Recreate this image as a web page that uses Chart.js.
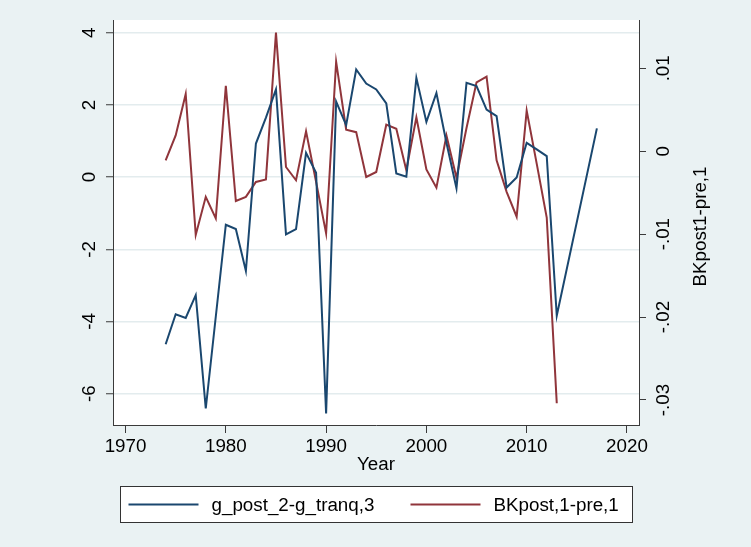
<!DOCTYPE html>
<html>
<head>
<meta charset="utf-8">
<script src="https://cdn.jsdelivr.net/npm/chart.js@4.4.1/dist/chart.umd.min.js"></script>
<style>
  html, body { margin: 0; padding: 0; background: #eaf2f3; }
  canvas { display: block; }
</style>
</head>
<body>
<canvas id="c" width="751" height="547"></canvas>
<script>
// Years of observation
const years = [1974, 1975, 1976, 1977, 1978, 1979, 1980, 1981, 1982, 1983,
               1984, 1985, 1986, 1987, 1988, 1989, 1990, 1991, 1992, 1993,
               1994, 1995, 1996, 1997, 1998, 1999, 2000, 2001, 2002, 2003,
               2004, 2005, 2006, 2007, 2008, 2009, 2010, 2011, 2012, 2013,
               2014, 2015, 2016, 2017];

// g_post_2-g_tranq,3 (left axis); null = no observation
const gPost = [-4.63, -3.80, -3.90, -3.27, -6.41, null, -1.32, -1.44, -2.60, 0.93,
               1.65, 2.43, -1.59, -1.44, 0.67, 0.12, -6.55, 2.09, 1.44, 2.98,
               2.59, 2.43, 2.04, 0.10, 0.01, 2.75, 1.53, 2.33, 0.95, -0.31,
               2.61, 2.52, 1.87, 1.69, -0.29, -0.01, 0.95, 0.77, 0.58, -3.84,
               null, null, null, 1.35];

// BKpost,1-pre,1 (right axis), 1974-2013
const bkPost = [-0.0011, 0.0019, 0.0069, -0.0101, -0.0055, -0.0081, 0.0079, -0.0060, -0.0055, -0.0037,
                -0.0034, 0.0143, -0.0019, -0.0035, 0.0024, -0.0037, -0.0099, 0.0108, 0.0026, 0.0023,
                -0.0031, -0.0025, 0.0032, 0.0027, -0.0023, 0.0041, -0.0022, -0.0044, 0.0019, -0.0032,
                0.0028, 0.0083, 0.0090, -0.0011, -0.0049, -0.0079, 0.0049, -0.0015, -0.0080, -0.0304];

const xTicks = [1970, 1980, 1990, 2000, 2010, 2020];
const leftTicks = [4, 2, 0, -2, -4, -6];
const leftTickLabels = ['4', '2', '0', '-2', '-4', '-6'];
const rightTicks = [0.01, 0, -0.01, -0.02, -0.03];
const rightTickLabels = ['.01', '0', '-.01', '-.02', '-.03'];

const seriesNames = ['g_post_2-g_tranq,3', 'BKpost,1-pre,1'];
const rightAxisTitle = 'BKpost1-pre,1';
const xAxisTitle = 'Year';

const FONT = "'Liberation Sans', Arial, sans-serif";
const FS = 18.8;
const AXIS = '#3a3a3a';
const BLUE = '#1a476f';
const RED = '#90353b';

const bluePts = years.map((yr, i) => ({ x: yr, y: gPost[i] }));
const redPts = bkPost.map((v, i) => ({ x: years[i], y: v }));

// Stata-like backgrounds: tinted outer region, white plot region
const backdrop = {
  id: 'backdrop',
  beforeDraw(chart) {
    const { ctx, chartArea: a } = chart;
    ctx.save();
    ctx.fillStyle = '#eaf2f3';
    ctx.fillRect(0, 0, chart.width, chart.height);
    ctx.fillStyle = '#ffffff';
    ctx.fillRect(a.left, a.top, a.right - a.left, a.bottom - a.top);
    ctx.restore();
  }
};

// Right axis title (reads bottom-to-top) and boxed legend below the axis
const extras = {
  id: 'extras',
  afterDraw(chart) {
    const { ctx, chartArea: a } = chart;
    ctx.save();
    ctx.fillStyle = '#000';
    ctx.font = FS + 'px ' + FONT;
    ctx.textAlign = 'center';
    ctx.textBaseline = 'middle';
    ctx.translate(701, (a.top + a.bottom) / 2 + 4);
    ctx.rotate(-Math.PI / 2);
    ctx.fillText(rightAxisTitle, 0, 0);
    ctx.restore();

    const cx = (a.left + a.right) / 2;
    const bw = 512, bh = 36;
    const bx = Math.round(cx - bw / 2) + 0.5, by = 486.5;
    ctx.save();
    ctx.fillStyle = '#ffffff';
    ctx.fillRect(bx, by, bw, bh);
    ctx.strokeStyle = '#333';
    ctx.lineWidth = 1;
    ctx.strokeRect(bx, by, bw, bh);
    const ly = by + bh / 2;
    const items = chart.data.datasets;
    const offsets = [8, 290];
    ctx.font = FS + 'px ' + FONT;
    ctx.textBaseline = 'middle';
    ctx.textAlign = 'left';
    items.forEach((ds, i) => {
      const x0 = bx + offsets[i];
      ctx.strokeStyle = ds.borderColor;
      ctx.lineWidth = 2;
      ctx.beginPath();
      ctx.moveTo(x0, ly);
      ctx.lineTo(x0 + 70, ly);
      ctx.stroke();
      ctx.fillStyle = '#000';
      ctx.fillText(ds.label, x0 + 83, ly + 1);
    });
    ctx.restore();
  }
};

new Chart(document.getElementById('c'), {
  type: 'line',
  data: {
    datasets: [
      { label: seriesNames[0], data: bluePts, yAxisID: 'y', borderColor: BLUE,
        borderWidth: 2, pointRadius: 0, tension: 0, spanGaps: true, fill: false },
      { label: seriesNames[1], data: redPts, yAxisID: 'y1', borderColor: RED,
        borderWidth: 2, pointRadius: 0, tension: 0, spanGaps: true, fill: false }
    ]
  },
  options: {
    responsive: false,
    animation: false,
    devicePixelRatio: 1,
    layout: { padding: { top: 20, left: 0, right: 0, bottom: 0 } },
    plugins: { legend: { display: false }, tooltip: { enabled: false } },
    scales: {
      x: {
        type: 'linear', position: 'bottom',
        min: 1968.75, max: 2021.2,
        afterBuildTicks: s => { s.ticks = xTicks.map(v => ({ value: v })); },
        afterFit: s => { s.height = 122; },
        ticks: { font: { family: FONT, size: FS }, color: '#000', padding: 3, maxRotation: 0,
                 callback: v => String(v) },
        grid: { drawOnChartArea: false, drawTicks: true, tickLength: 8, tickColor: AXIS, tickWidth: 1 },
        border: { display: true, color: AXIS, width: 1 },
        title: { display: true, text: xAxisTitle, color: '#000',
                 font: { family: FONT, size: FS }, padding: { top: 0, bottom: 71 } }
      },
      y: {
        type: 'linear', position: 'left',
        min: -6.867, max: 4.352,
        afterBuildTicks: s => { s.ticks = leftTicks.map(v => ({ value: v })); },
        afterFit: s => { s.width = 113; },
        ticks: { font: { family: FONT, size: FS }, color: '#000', minRotation: 90, maxRotation: 90,
                 crossAlign: 'center', padding: 7.6,
                 callback: (v, i) => leftTickLabels[i] },
        grid: { color: '#e3ecee', lineWidth: 1.5, drawTicks: true, tickLength: 7, tickColor: AXIS, tickWidth: 1 },
        border: { display: true, color: AXIS, width: 1 }
      },
      y1: {
        type: 'linear', position: 'right',
        min: -0.033015, max: 0.015825,
        afterBuildTicks: s => { s.ticks = rightTicks.map(v => ({ value: v })); },
        afterFit: s => { s.width = 112; },
        ticks: { font: { family: FONT, size: FS }, color: '#000', minRotation: 90, maxRotation: 90,
                 crossAlign: 'center', padding: 1.8,
                 callback: (v, i) => rightTickLabels[i] },
        grid: { drawOnChartArea: false, drawTicks: true, tickLength: 7, tickColor: AXIS, tickWidth: 1 },
        border: { display: true, color: AXIS, width: 1 }
      }
    }
  },
  plugins: [backdrop, extras]
});
</script>
</body>
</html>
